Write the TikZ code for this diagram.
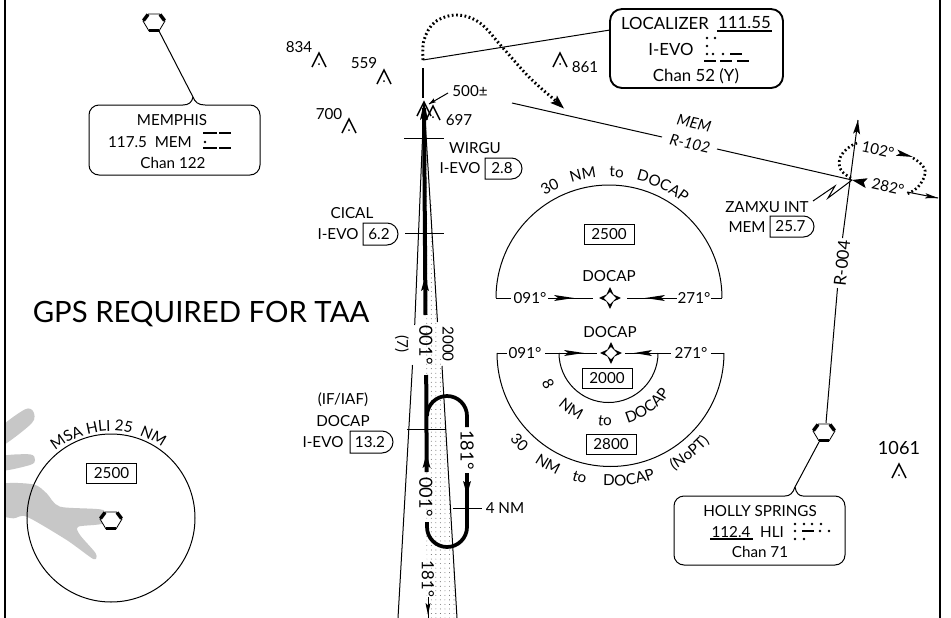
\documentclass[tikz,border=0pt]{standalone}
\usepackage{fontspec}
\setmainfont{Lato}
\usetikzlibrary{decorations.text,patterns.meta}
\newcommand{\fs}{\fontsize{11.4}{13}\selectfont}
\newcommand{\hexvor}[2]{%
  \begin{scope}[shift={(#1,#2)}]
    \fill[white] (-11,-1)--(-5.5,-8)--(5.5,-8)--(11,-1)--(5,9)--(-5,9)--cycle;
    \draw[line width=.6pt] (-11,-1)--(-5.5,-8)--(5.5,-8)--(11,-1)--(5,9)--(-5,9)--cycle;
    \draw[line width=2.6pt] (-10.5,-1.5)--(-6,-7.5);
    \draw[line width=2.6pt] (10.5,-1.5)--(6,-7.5);
    \draw[line width=2.6pt] (-5,8.5)--(5,8.5);
  \end{scope}}
\newcommand{\obst}[2]{%
  \draw[line width=1.05pt] (#1-7,#2+14)--(#1,#2)--(#1+7,#2+14);
  \fill (#1,#2+11) circle[radius=1];}
\newcommand{\fixstar}[2]{%
  \fill (#1,#2-11)--(#1+3.5,#2-3.5)--(#1+11,#2)--(#1+3.5,#2+3.5)--(#1,#2+11)--(#1-3.5,#2+3.5)--(#1-11,#2)--(#1-3.5,#2-3.5)--cycle;
  \fill[white] (#1,#2-6)--(#1+6,#2)--(#1,#2+6)--(#1-6,#2)--cycle;}
\newcommand{\tri}[5]{\fill[shift={(#1,#2)},rotate=#3] (0,0)--(-#4,-#5)--(-#4*.8,0)--(-#4,#5)--cycle;}
\newcommand{\mdot}[2]{\fill (#1,#2) circle[radius=1.4];}
\newcommand{\mdash}[3]{\draw[line width=2pt] (#1,#3)--(#2,#3);}
\newcommand{\dbox}[6]{%
  \pgfmathsetmacro{\rad}{(#5-#3)/2}
  \pgfmathsetmacro{\xr}{#4-\rad}
  \draw[line width=.75pt] (#2,#3)--(\xr,#3) arc[start angle=-90,end angle=90,radius=\rad]--(#2,#5)--cycle;
  \pgfmathsetmacro{\xm}{(#2+#4)/2-1.5}
  \pgfmathsetmacro{\ym}{(#3+#5)/2}
  \node[lbl] (#1) at (\xm,\ym) {#6};}
\newcommand{\arcword}[6]{%
  \pgfmathsetmacro{\sa}{#4+#5}
  \pgfmathsetmacro{\ea}{#4-#5}
  \path[decorate,decoration={text along path,text={|\fs|#6},text align=center}]
    ([shift={(#1,#2)}]\sa:#3) arc[start angle=\sa,end angle=\ea,radius=#3];}
\tikzset{
  lbl/.style={inner sep=0pt,font=\fs},
  big/.style={inner sep=0pt,font=\fontsize{12.6}{14}\selectfont},
  crs/.style={inner sep=0pt,font=\fontsize{13.6}{15}\selectfont},
  alt/.style={draw,line width=.75pt,inner sep=0pt,font=\fs,minimum width=37.5pt,minimum height=15pt},
  thinline/.style={line width=.75pt},
  holdline/.style={line width=2.8pt},
  dotline/.style={line width=2.2pt,dash pattern=on 1.3pt off 1.9pt},
}
\begin{document}
\begin{tikzpicture}[x=.75pt,y=-.75pt]
\useasboundingbox (0,0) rectangle (951,618);
\fill[white] (0,0) rectangle (951,618);
% terrain
\begin{scope}
\clip (5,380) rectangle (300,618);
\begin{scope}[shift={(0,390)},x=.25pt,y=-.25pt]
\fill[black!22] plot[smooth cycle,tension=.5] coordinates {(0,115)(75,58)(100,65)(95,100)(0,170)};
\fill[black!22] plot[smooth cycle,tension=.5] coordinates {(0,200)(90,193)(105,210)(90,225)(0,242)};
\fill[black!22] plot[smooth cycle,tension=.45] coordinates {(0,285)(100,283)(140,310)(180,350)(310,360)(310,400)(235,410)(240,435)(287,490)(280,507)(200,450)(80,380)(40,385)(0,370)};
\end{scope}
\end{scope}
% frame
\draw[line width=1.6pt] (5,0)--(5,618);
\draw[line width=1.6pt] (940,0)--(940,618);
% feather
\path[pattern={Dots[distance=3.4pt,radius=.32pt,xshift=.5pt]},pattern color=black!75] (425,104)--(427,618)--(457,618)--cycle;
\coordinate (ftip) at (424,102);
\coordinate (flb) at (398,618);
\coordinate (frb) at (457,618);
\draw[thinline] (ftip)--(414.7,325);
\draw[thinline] (412.5,365)--(flb);
\draw[thinline] (ftip)--(437.5,322);
\draw[thinline] (442,366)--(frb);
% fix cross lines
\draw[thinline] (404,138)--(444,138);
\draw[thinline] (405,233)--(444,233);
\draw[thinline] (407,429)--(446,429);
\draw[line width=.75pt] (453,508)--(482,508);
% thick course
\draw[line width=3pt] (424,108)--(425.5,315);
\draw[line width=3pt] (426.2,375)--(426.7,472);
\draw[line width=2pt] (423,68)--(423,98);
\tri{424}{102}{90}{18}{4}
\tri{425}{277}{90}{14}{4}
\tri{426.5}{454}{90}{14}{4}
% hold
\draw[holdline] (427,416) arc[start angle=180,end angle=360,radius=20] -- (467,427);
\draw[holdline] (467,473)--(467,527) arc[start angle=0,end angle=180,radius=20] -- (427,522);
\tri{467}{495}{-90}{14}{4}
% missed approach
\draw[dotline] plot[smooth,tension=.6] coordinates {(423,60)(424,40)(435,22)(457,15)(480,23)(503,48)(530,78)(556,101)};
\tri{564}{108.5}{-42}{14}{5}
% localizer
\coordinate (locfeather) at (423,60);
\node[big] (locname) at (665,23) {LOCALIZER};
\node[big] (locfreq) at (744.5,23) {111.55};
\draw[line width=.8pt] (717,31)--(772,31);
\node[big] (locid) at (671,49) {I-EVO};
\node[big] (locchan) at (696,76) {Chan 52 (Y)};
\draw[line width=1.4pt,rounded corners=9pt] (610,9) rectangle (783,88);
\coordinate (locl) at (610,30);
\draw[thinline] (locl)--(locfeather);
\mdot{707}{38}\mdot{715}{38}\mdot{707}{46}\mdot{707}{54}\mdot{713}{54}\mdot{723}{54}
\mdash{730}{742}{54}\mdash{704}{716}{61}\mdash{720}{732}{61}\mdash{737}{749}{61}
% Memphis
\hexvor{154}{22}
\coordinate (memv) at (159,31);
\coordinate (memb) at (193,97);
\draw[thinline] (memv)--(memb);
\draw[thinline,rounded corners=7.5pt] (183,105)--(89,105)--(89,175)--(260,175)--(260,105)--(205,105);
\draw[thinline] (183,105) .. controls (189,105) and (192,102) .. (memb);
\draw[thinline] (205,105) .. controls (198,105) and (195,102) .. (memb);
\node[lbl] (memn) at (172,120) {MEMPHIS};
\node[lbl] (memf) at (150,142) {117.5\ \ MEM};
\node[lbl] (memc) at (173,163) {Chan 122};
\mdash{203}{217}{133}\mdash{219}{231}{133}\mdot{205}{142}\mdash{203}{217}{148}\mdash{219}{231}{148}
% obstacles
\node[lbl] (o834) at (299,47) {834}; \obst{319}{53}
\node[lbl] (o559) at (364,63) {559}; \obst{384}{70}
\node[lbl] (o700) at (329,114) {700}; \obst{349}{119}
\node[lbl] (o697) at (459,120) {697}; \obst{433}{106}
\obst{424}{102}
\node[lbl] (o861) at (585,67) {861}; \obst{560}{53}
\node[lbl,font=\fontsize{13.6}{15}\selectfont] (o1061) at (899,448) {1061}; \obst{899}{464}
\node[lbl] (h500) at (470,91) {500±};
\coordinate (h500t) at (429,104);
\draw[thinline] (448,93)--(h500t);
\tri{429}{104}{-148}{7}{2.2}
% WIRGU, CICAL, DOCAP
\node[lbl] (wirgu) at (475,148) {WIRGU};
\node[lbl] (wid) at (460,168) {I-EVO};
\dbox{wd}{485}{158}{522}{179}{2.8}
\node[lbl] (cical) at (352,213) {CICAL};
\node[lbl] (cid) at (338,234) {I-EVO};
\dbox{cd}{363}{223}{398}{245}{6.2}
\node[lbl] (ifiaf) at (343,400) {(IF/IAF)};
\node[lbl] (docap) at (343,421) {DOCAP};
\node[lbl] (did) at (323,442) {I-EVO};
\dbox{dd}{350}{431}{393}{453}{13.2}
% title
\node[lbl,font=\fontsize{22}{25}\selectfont] (gps) at (201,314) {GPS REQUIRED FOR TAA};
% rotated labels
\node[lbl,rotate=-90] (l7) at (402,344) {(7)};
\node[crs,rotate=-90] (c1a) at (426,345) {001°};
\node[crs,rotate=-90] (c1b) at (426,497) {001°};
\node[crs,rotate=-90] (c2a) at (467,450) {181°};
\node[big,rotate=-90] (c2b) at (428,579) {181°};
\node[lbl,rotate=-90] (a2000) at (448,344) {2000};
\node[lbl] (nm4) at (505,508) {4 NM};
\coordinate (b181) at (428,597);
\coordinate (e181) at (428,618);
\draw[thinline] (b181)--(e181);
\tri{428}{615}{-90}{12}{2.5}
% upper TAA
\coordinate (ul) at (496,298);
\coordinate (ur) at (722,298);
\draw[thinline] (ul) arc[start angle=180,end angle=360,radius=113];
\draw[thinline] (ul)--(511,298);
\node[lbl] (u091) at (530,298) {091°};
\draw[thinline] (548,298)--(593,298);
\tri{574}{298}{0}{20}{3}
\fixstar{610}{298}
\draw[thinline] (627,298)--(677,298);
\tri{645}{298}{180}{20}{3}
\node[lbl] (u271) at (694,298) {271°};
\draw[thinline] (711,298)--(ur);
\node[lbl] (udoc) at (609,276) {DOCAP};
\node[alt] (u2500) at (609,234) {2500};
\arcword{609}{298}{121}{-118}{-20}{30}
\arcword{609}{298}{121}{-102}{-20}{NM}
\arcword{609}{298}{121}{-86.5}{-20}{to}
\arcword{609}{298}{121}{-64.5}{-25}{DOCAP}
% lower TAA
\coordinate (ll) at (497,353);
\coordinate (lr) at (724,353);
\draw[thinline] (ll) arc[start angle=180,end angle=0,radius=113.5];
\draw[thinline] (ll)--(507,353);
\node[lbl] (l091) at (525,353) {091°};
\draw[thinline] (545,353)--(597,353);
\tri{584}{353}{0}{20}{3}
\fixstar{611}{353}
\draw[thinline] (625,353)--(671,353);
\tri{634}{353}{180}{18}{3}
\node[lbl] (l271) at (691,353) {271°};
\draw[thinline] (711,353)--(lr);
\draw[thinline] (559,353) arc[start angle=180,end angle=0,radius=49.5];
\node[lbl] (ldoc) at (610,332) {DOCAP};
\node[alt] (l2000) at (607,378) {2000};
\node[alt] (l2800) at (611,444) {2800};
\arcword{608.5}{353}{73}{153}{20}{8}
\arcword{608.5}{353}{73}{123.7}{20}{NM}
\arcword{608.5}{353}{73}{93}{20}{to}
\arcword{608.5}{353}{73}{54}{30}{DOCAP}
\arcword{610.5}{353}{133}{135.5}{15}{30}
\arcword{610.5}{353}{133}{119.4}{15}{NM}
\arcword{610.5}{353}{133}{104}{15}{to}
\arcword{610.5}{353}{133}{81.7}{20}{DOCAP}
\arcword{610.5}{353}{133}{51.7}{20}{(NoPT)}
% MEM radial
\coordinate (rs) at (512,103);
\coordinate (zam) at (852,180);
\draw[thinline] (rs)--(662,137);
\draw[thinline] (717,149)--(zam);
\node[lbl,rotate=-12.8,font=\fs\itshape] (rmem) at (694,123) {MEM};
\node[lbl,rotate=-12.8,font=\fs\itshape] (r102) at (690,144) {R-102};
% R-004
\coordinate (hsv) at (826,423);
\coordinate (rtop) at (858,120);
\draw[thinline] (hsv)--(837.5,288);
\draw[thinline] (842.5,238)--(rtop);
\tri{858}{120}{84}{14}{3.5}
\node[big,rotate=84] (r004) at (842,263) {R-004};
% hold at ZAMXU
\draw[dotline,line width=2pt] plot[smooth,tension=.7] coordinates {(851,178)(841,170)(840,158)(848,148)(857,143)};
\draw[dotline,line width=2pt] plot[smooth,tension=.7] coordinates {(913,158)(922,165)(925,174)(918,187)(907,194)};
\node[lbl,rotate=-12] (h102) at (878,150) {102°};
\node[lbl,rotate=-12] (h282) at (888,187) {282°};
\tri{913}{157}{-15}{17}{3.2}
\tri{852}{180}{168}{15}{5}
\coordinate (hend) at (938,198);
\draw[thinline] (907,192)--(hend);
\tri{938}{198}{-10}{13}{2.6}
% ZAMXU
\coordinate (zl) at (813,201);
\draw[thinline] (zl)--(835,186)--(828,198)--(zam);
\node[lbl] (zn) at (767,207) {ZAMXU INT};
\node[lbl] (zm) at (747,227) {MEM};
\dbox{zd}{770}{216}{814}{237}{25.7}
% Holly Springs
\hexvor{824}{432}
\coordinate (hsb) at (819,442);
\coordinate (hsf) at (795,487);
\draw[thinline] (hsb)--(hsf);
\draw[thinline,rounded corners=7.5pt] (785,496)--(674,496)--(674,565)--(845,565)--(845,496)--(803,496);
\draw[thinline] (785,496) .. controls (790,496) and (793,493) .. (hsf);
\draw[thinline] (803,496) .. controls (799,496) and (796,493) .. (hsf);
\node[lbl] (hsn) at (760,511) {HOLLY SPRINGS};
\node[lbl] (hsfq) at (731,532) {112.4};
\draw[line width=.8pt] (710,539)--(753,539);
\node[lbl] (hsi) at (772,532) {HLI};
\node[lbl] (hsc) at (760,552) {Chan 71};
\mdot{795}{524}\mdot{804}{524}\mdot{812}{524}\mdot{821}{524}
\mdot{795}{531}\mdash{802}{814}{531}\mdot{820}{531}\mdot{829}{531}
\mdot{795}{539}\mdot{804}{539}
% MSA
\coordinate (msac) at (111,518);
\draw[thinline] (msac) circle[radius=84];
\hexvor{111}{520}
\node[alt] (m2500) at (111.5,473) {2500};
\arcword{111}{518}{87}{-119}{-20}{MSA}
\arcword{111}{518}{87}{-98}{-15}{HLI}
\arcword{111}{518}{87}{-82}{-15}{25}
\arcword{111}{518}{87}{-62.6}{-15}{NM}
\end{tikzpicture}
\end{document}
